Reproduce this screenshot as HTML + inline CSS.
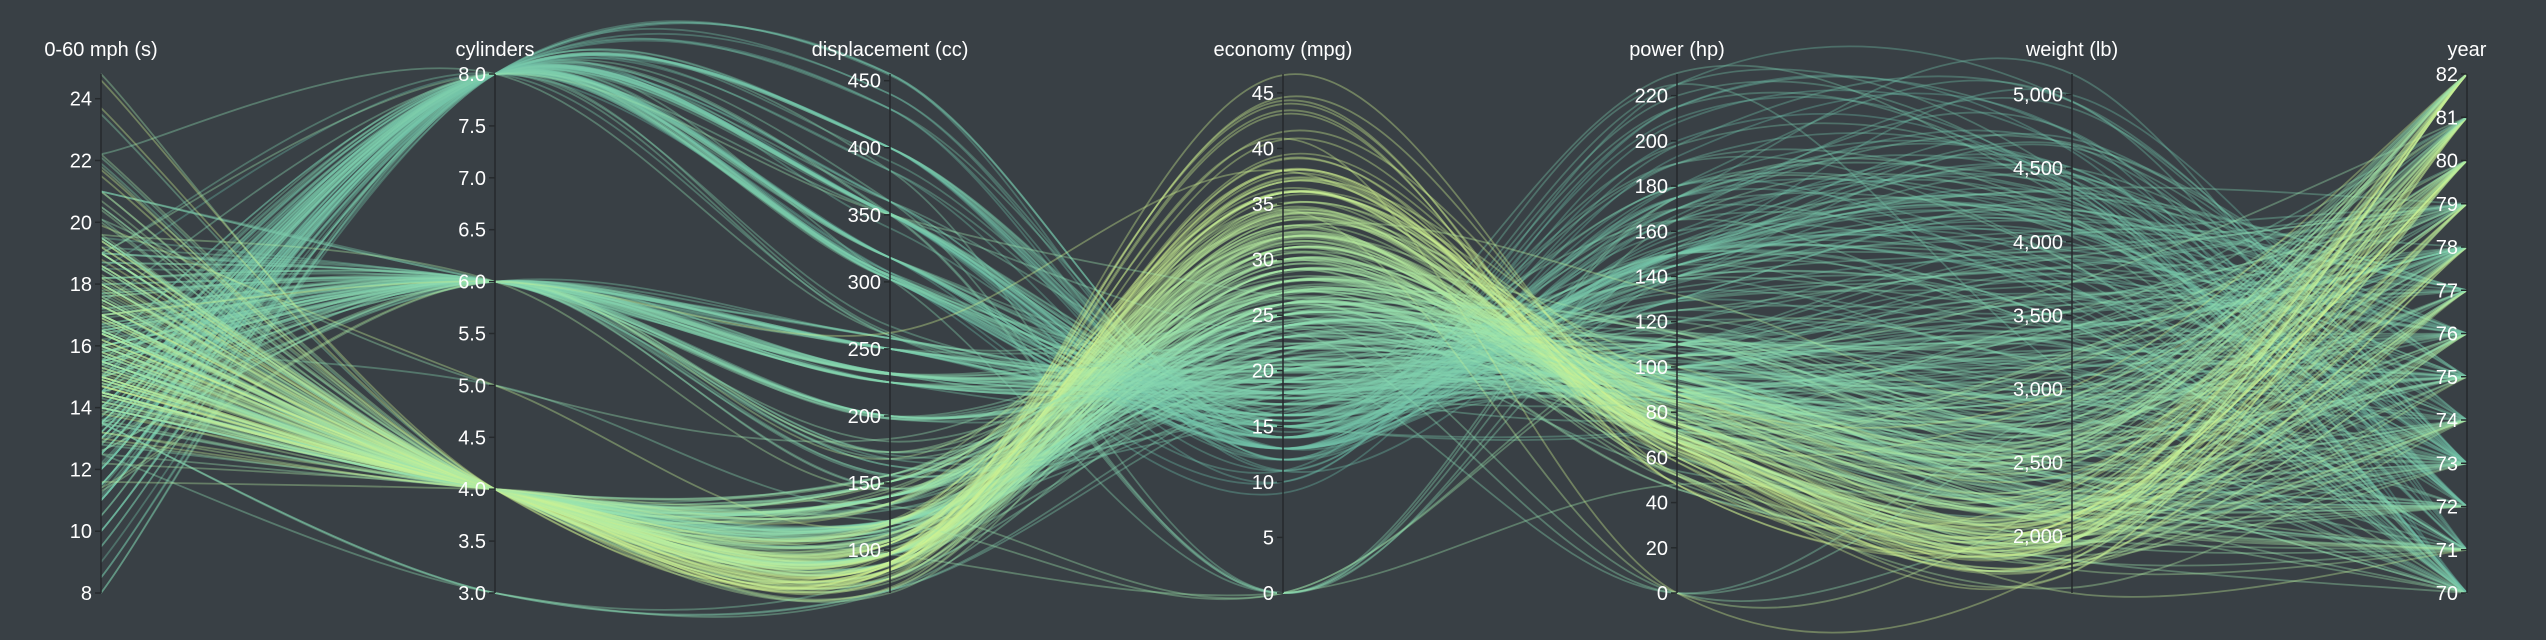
<!DOCTYPE html>
<html><head><meta charset="utf-8"><style>
html,body{margin:0;padding:0;background:#394045;}
svg{display:block;}
text{font-family:"Liberation Sans",sans-serif;fill:#fff;}
</style></head><body>
<svg id="chart" width="2546" height="640" viewBox="0 0 2546 640" xmlns="http://www.w3.org/2000/svg">
<rect width="2546" height="640" fill="#394045"/>
<g id="lines"></g>
<g id="axes"></g>
</svg>
<script>
// dimension order: acceleration, cylinders, displacement, economy, power, weight, year
const dimNames = ["0-60 mph (s)","cylinders","displacement (cc)","economy (mpg)","power (hp)","weight (lb)","year"];
const dimKeys = ["acceleration","cylinders","displacement","economy","power","weight","year"];
const dimMin = [8, 3, 68, 0, 0, 1613, 70];
const dimMax = [24.8, 8, 455, 46.7, 229.6, 5140, 82];
const accTicks = [8,10,12,14,16,18,20,22,24];
const cylTicks = [3,3.5,4,4.5,5,5.5,6,6.5,7,7.5,8];
const dispTicks = [100,150,200,250,300,350,400,450];
const mpgTicks = [0,5,10,15,20,25,30,35,40,45];
const hpTicks = [0,20,40,60,80,100,120,140,160,180,200,220];
const wtTicks = [2000,2500,3000,3500,4000,4500,5000];
const yearTicks = [70,71,72,73,74,75,76,77,78,79,80,81,82];
// each car: mpg, cylinders, displacement, hp, weight, acceleration, year
const cars = [
[18,8,307,130,3504,12,70],[15,8,350,165,3693,11.5,70],[18,8,318,150,3436,11,70],[16,8,304,150,3433,12,70],[17,8,302,140,3449,10.5,70],[15,8,429,198,4341,10,70],[14,8,454,220,4354,9,70],[14,8,440,215,4312,8.5,70],[14,8,455,225,4425,10,70],[15,8,390,190,3850,8.5,70],
[0,4,133,115,3090,17.5,70],[0,8,350,165,4142,11.5,70],[0,8,351,153,4034,11,70],[0,8,383,175,4166,10.5,70],[0,8,360,175,3850,11,70],[15,8,383,170,3563,10,70],[14,8,340,160,3609,8,70],[0,8,302,140,3353,8,70],[15,8,400,150,3761,9.5,70],[14,8,455,225,3086,10,70],
[24,4,113,95,2372,15,70],[22,6,198,95,2833,15.5,70],[18,6,199,97,2774,15.5,70],[21,6,200,85,2587,16,70],[27,4,97,88,2130,14.5,70],[26,4,97,46,1835,20.5,70],[25,4,110,87,2672,17.5,70],[24,4,107,90,2430,14.5,70],[25,4,104,95,2375,17.5,70],[26,4,121,113,2234,12.5,70],
[21,6,199,90,2648,15,70],[10,8,360,215,4615,14,70],[10,8,307,200,4376,15,70],[11,8,318,210,4382,13.5,70],[9,8,304,193,4732,18.5,70],[27,4,97,88,2130,14.5,71],[28,4,140,90,2264,15.5,71],[25,4,113,95,2228,14,71],[25,4,98,0,2046,19,71],[0,4,97,48,1978,20,71],
[19,6,232,100,2634,13,71],[16,6,225,105,3439,15.5,71],[17,6,250,100,3329,15.5,71],[19,6,250,88,3302,15.5,71],[18,6,232,100,3288,15.5,71],[14,8,350,165,4209,12,71],[14,8,400,175,4464,11.5,71],[14,8,351,153,4154,13.5,71],[14,8,318,150,4096,13,71],[12,8,383,180,4955,11.5,71],
[13,8,400,170,4746,12,71],[13,8,400,175,5140,12,71],[18,6,258,110,2962,13.5,71],[22,4,140,72,2408,19,71],[19,6,250,100,3282,15,71],[18,6,250,88,3139,14.5,71],[23,4,122,86,2220,14,71],[28,4,116,90,2123,14,71],[30,4,79,70,2074,19.5,71],[30,4,88,76,2065,14.5,71],
[31,4,71,65,1773,19,71],[35,4,72,69,1613,18,71],[27,4,97,60,1834,19,71],[26,4,91,70,1955,20.5,71],[24,4,113,95,2278,15.5,72],[25,4,97.5,80,2126,17,72],[23,4,97,54,2254,23.5,72],[20,4,140,90,2408,19.5,72],[21,4,122,86,2226,16.5,72],[13,8,350,165,4274,12,72],
[14,8,400,175,4385,12,72],[15,8,318,150,4135,13.5,72],[14,8,351,153,4129,13,72],[17,8,304,150,3672,11.5,72],[11,8,429,208,4633,11,72],[13,8,350,155,4502,13.5,72],[12,8,350,160,4456,13.5,72],[13,8,400,190,4422,12.5,72],[19,3,70,97,2330,13.5,72],[15,8,304,150,3892,12.5,72],
[13,8,307,130,4098,14,72],[13,8,302,140,4294,16,72],[14,8,318,150,4077,14,72],[18,4,121,112,2933,14.5,72],[22,4,121,76,2511,18,72],[21,4,120,87,2979,19.5,72],[26,4,96,69,2189,18,72],[22,4,122,86,2395,16,72],[28,4,97,92,2288,17,72],[23,4,120,97,2506,14.5,72],
[28,4,98,80,2164,15,72],[27,4,97,88,2100,16.5,72],[13,8,350,175,4100,13,73],[14,8,304,150,3672,11.5,73],[13,8,350,145,3988,13,73],[14,8,302,137,4042,14.5,73],[15,8,318,150,3777,12.5,73],[12,8,429,198,4952,11.5,73],[13,8,400,150,4464,12,73],[13,8,351,158,4363,13,73],
[14,8,318,150,4237,14.5,73],[13,8,440,215,4735,11,73],[12,8,455,225,4951,11,73],[13,8,360,175,3821,11,73],[18,6,225,105,3121,16.5,73],[16,6,250,100,3278,18,73],[18,6,232,100,2945,16,73],[18,6,250,88,3021,16.5,73],[23,6,198,95,2904,16,73],[26,4,97,46,1950,21,73],
[11,8,400,150,4997,14,73],[12,8,400,167,4906,12.5,73],[13,8,360,170,4654,13,73],[12,8,350,180,4499,12.5,73],[18,6,232,100,2789,15,73],[20,4,97,88,2279,19,73],[21,4,140,72,2401,19.5,73],[22,4,108,94,2379,16.5,73],[18,3,70,90,2124,13.5,73],[19,4,122,85,2310,18.5,73],
[21,6,155,107,2472,14,73],[26,4,98,90,2265,15.5,73],[15,8,350,145,4082,13,73],[16,8,400,230,4278,9.5,73],[29,4,68,49,1867,19.5,73],[24,4,116,75,2158,15.5,73],[20,4,114,91,2582,14,73],[19,4,121,112,2868,15.5,73],[15,8,318,150,3399,11,73],[24,4,121,110,2660,14,73],
[20,6,156,122,2807,13.5,73],[11,8,350,180,3664,11,73],[20,6,198,95,3102,16.5,74],[21,6,200,0,2875,17,74],[19,6,232,100,2901,16,74],[15,6,250,100,3336,17,74],[31,4,79,67,1950,19,74],[26,4,122,80,2451,16.5,74],[32,4,71,65,1836,21,74],[25,4,140,75,2542,17,74],
[16,6,250,100,3781,17,74],[16,6,258,110,3632,18,74],[18,6,225,105,3613,16.5,74],[16,8,302,140,4141,14,74],[13,8,350,150,4699,14.5,74],[14,8,318,150,4457,13.5,74],[14,8,302,140,4638,16,74],[14,8,304,150,4257,15.5,74],[29,4,98,83,2219,16.5,74],[26,4,79,67,1963,15.5,74],
[26,4,97,78,2300,14.5,74],[31,4,76,52,1649,16.5,74],[32,4,83,61,2003,19,74],[28,4,90,75,2125,14.5,74],[24,4,90,75,2108,15.5,74],[26,4,116,75,2246,14,74],[24,4,120,97,2489,15,74],[26,4,108,93,2391,15.5,74],[31,4,79,67,2000,16,74],[19,6,225,95,3264,16,75],
[18,6,250,105,3459,16,75],[15,6,250,72,3432,21,75],[15,6,250,72,3158,19.5,75],[16,8,400,170,4668,11.5,75],[15,8,350,145,4440,14,75],[16,8,318,150,4498,14.5,75],[14,8,351,148,4657,13.5,75],[17,6,231,110,3907,21,75],[16,6,250,105,3897,18.5,75],[15,6,258,110,3730,19,75],
[18,6,225,95,3785,19,75],[21,6,231,110,3039,15,75],[20,8,262,110,3221,13.5,75],[13,8,302,129,3169,12,75],[29,4,97,75,2171,16,75],[23,4,140,83,2639,17,75],[20,6,232,100,2914,16,75],[23,4,140,78,2592,18.5,75],[24,4,134,96,2702,13.5,75],[25,4,90,71,2223,16.5,75],
[24,4,119,97,2545,17,75],[18,6,171,97,2984,14.5,75],[29,4,90,70,1937,14,75],[19,6,232,90,3211,17,75],[23,4,115,95,2694,15,75],[23,4,120,88,2957,17,75],[22,4,121,98,2945,14.5,75],[25,4,121,115,2671,13.5,75],[33,4,91,53,1795,17.5,75],[28,4,107,86,2464,15.5,76],
[25,4,116,81,2220,16.9,76],[25,4,140,92,2572,14.9,76],[26,4,98,79,2255,17.7,76],[27,4,101,83,2202,15.3,76],[17.5,8,305,140,4215,13,76],[16,8,318,150,4190,13,76],[15.5,8,304,120,3962,13.9,76],[14.5,8,351,152,4215,12.8,76],[22,6,225,100,3233,15.4,76],[22,6,250,105,3353,14.5,76],
[24,6,200,81,3012,17.6,76],[22.5,6,232,90,3085,17.6,76],[29,4,85,52,2035,22.2,76],[24.5,4,98,60,2164,22.1,76],[29,4,90,70,1937,14.2,76],[33,4,91,53,1795,17.4,76],[20,6,225,100,3651,17.7,76],[18,6,250,78,3574,21,76],[18.5,6,250,110,3645,16.2,76],[17.5,6,258,95,3193,17.8,76],
[29.5,4,97,71,1825,12.2,76],[32,4,85,70,1990,17,76],[28,4,97,75,2155,16.4,76],[26.5,4,140,72,2565,13.6,76],[20,4,130,102,3150,15.7,76],[13,8,318,150,3940,13.2,76],[19,4,120,88,3270,21.9,76],[19,6,156,108,2930,15.5,76],[16.5,6,168,120,3820,16.7,76],[16.5,8,350,180,4380,12.1,76],
[13,8,350,145,4055,12,76],[13,8,302,130,3870,15,76],[13,8,318,150,3755,14,76],[31.5,4,98,68,2045,18.5,77],[30,4,111,80,2155,14.8,77],[36,4,79,58,1825,18.6,77],[25.5,4,122,96,2300,15.5,77],[33.5,4,85,70,1945,16.8,77],[17.5,8,305,145,3880,12.5,77],[17,8,260,110,4060,19,77],
[15.5,8,318,145,4140,13.7,77],[15,8,302,130,4295,14.9,77],[17.5,6,250,110,3520,16.4,77],[20.5,6,231,105,3425,16.9,77],[19,6,225,100,3630,17.7,77],[18.5,6,250,98,3525,19,77],[16,8,400,180,4220,11.1,77],[15.5,8,350,170,4165,11.4,77],[15.5,8,400,190,4325,12.2,77],[16,8,351,149,4335,14.5,77],
[29,4,97,78,1940,14.5,77],[24.5,4,151,88,2740,16,77],[26,4,97,75,2265,18.2,77],[25.5,4,140,89,2755,15.8,77],[30.5,4,98,63,2051,17,77],[33.5,4,98,83,2075,15.9,77],[30,4,97,67,1985,16.4,77],[30.5,4,97,78,2190,14.1,77],[22,6,146,97,2815,14.5,77],[21.5,4,121,110,2600,12.8,77],
[21.5,3,80,110,2720,13.5,77],[43.1,4,90,48,1985,21.5,78],[36.1,4,98,66,1800,14.4,78],[32.8,4,78,52,1985,19.4,78],[39.4,4,85,70,2070,18.6,78],[36.1,4,91,60,1800,16.4,78],[19.9,8,260,110,3365,15.5,78],[19.4,8,318,140,3735,13.2,78],[20.2,8,302,139,3570,12.8,78],[19.2,6,231,105,3535,19.2,78],
[20.5,6,200,95,3155,18.2,78],[20.2,6,200,85,2965,15.8,78],[25.1,4,140,88,2720,15.4,78],[20.5,6,225,100,3430,17.2,78],[19.4,6,232,90,3210,17.2,78],[20.6,6,231,105,3380,15.8,78],[20.8,6,200,85,3070,16.7,78],[18.6,6,225,110,3620,18.7,78],[18.1,6,258,120,3410,15.1,78],[19.2,8,305,145,3425,13.2,78],
[17.7,6,231,165,3445,13.4,78],[18.1,8,302,139,3205,11.2,78],[17.5,8,318,140,4080,13.7,78],[30,4,98,68,2155,16.5,78],[27.5,4,134,95,2560,14.2,78],[27.2,4,119,97,2300,14.7,78],[30.9,4,105,75,2230,14.5,78],[21.1,4,134,95,2515,14.8,78],[23.2,4,156,105,2745,16.7,78],[23.8,4,151,85,2855,17.6,78],
[23.9,4,119,97,2405,14.9,78],[20.3,5,131,103,2830,15.9,78],[17,6,163,125,3140,13.6,78],[21.6,4,121,115,2795,15.7,78],[16.2,6,163,133,3410,15.8,78],[31.5,4,89,71,1990,14.9,78],[29.5,4,98,68,2135,16.6,78],[21.5,6,231,115,3245,15.4,79],[19.8,6,200,85,2990,18.2,79],[22.3,4,140,88,2890,17.3,79],
[20.2,6,232,90,3265,18.2,79],[20.6,6,225,110,3360,16.6,79],[17,8,305,130,3840,15.4,79],[17.6,8,302,129,3725,13.4,79],[16.5,8,351,138,3955,13.2,79],[18.2,8,318,135,3830,15.2,79],[16.9,8,350,155,4360,14.9,79],[15.5,8,351,142,4054,14.3,79],[19.2,8,267,125,3605,15,79],[18.5,8,360,150,3940,13,79],
[31.9,4,89,71,1925,14,79],[34.1,4,86,65,1975,15.2,79],[35.7,4,98,80,1915,14.4,79],[27.4,4,121,80,2670,15,79],[25.4,5,183,77,3530,20.1,79],[23,8,350,125,3900,17.4,79],[27.2,4,141,71,3190,24.8,79],[23.9,8,260,90,3420,22.2,79],[34.2,4,105,70,2200,13.2,79],[34.5,4,105,70,2150,14.9,79],
[31.8,4,85,65,2020,19.2,79],[37.3,4,91,69,2130,14.7,79],[28.4,4,151,90,2670,16,79],[28.8,6,173,115,2595,11.3,79],[26.8,6,173,115,2700,12.9,79],[33.5,4,151,90,2556,13.2,79],[41.5,4,98,76,2144,14.7,80],[38.1,4,89,60,1968,18.8,80],[32.1,4,98,70,2120,15.5,80],[37.2,4,86,65,2019,16.4,80],
[28,4,151,90,2678,16.5,80],[26.4,4,140,88,2870,18.1,80],[24.3,4,151,90,3003,20.1,80],[19.1,6,225,90,3381,18.7,80],[34.3,4,97,78,2188,15.8,80],[29.8,4,134,90,2711,15.5,80],[31.3,4,120,75,2542,17.5,80],[37,4,119,92,2434,15,80],[32.2,4,108,75,2265,15.2,80],[46.6,4,86,65,2110,17.9,80],
[27.9,4,156,105,2800,14.4,80],[40.8,4,85,65,2110,19.2,80],[44.3,4,90,48,2085,21.7,80],[43.4,4,90,48,2335,23.7,80],[36.4,5,121,67,2950,19.9,80],[30,4,146,67,3250,21.8,80],[44.6,4,91,67,1850,13.8,80],[40.9,4,85,0,1835,17.3,80],[33.8,4,97,67,2145,18,80],[29.8,4,89,62,1845,15.3,80],
[32.7,6,168,132,2910,11.4,80],[23.7,3,70,100,2420,12.5,80],[35,4,122,88,2500,15.1,80],[23.6,4,140,0,2905,14.3,80],[32.4,4,107,72,2290,17,80],[27.2,4,135,84,2490,15.7,81],[26.6,4,151,84,2635,16.4,81],[25.8,4,156,92,2620,14.4,81],[23.5,6,173,110,2725,12.6,81],[30,4,135,84,2385,12.9,81],
[39.1,4,79,58,1755,16.9,81],[39,4,86,64,1875,16.4,81],[35.1,4,81,60,1760,16.1,81],[32.3,4,97,67,2065,17.8,81],[37,4,85,65,1975,19.4,81],[37.7,4,89,62,2050,17.3,81],[34.1,4,91,68,1985,16,81],[34.7,4,105,63,2215,14.9,81],[34.4,4,98,65,2045,16.2,81],[29.9,4,98,65,2380,20.7,81],
[33,4,105,74,2190,14.2,81],[0,4,121,110,2800,15.4,81],[34.5,4,100,0,2320,15.8,81],[33.7,4,107,75,2210,14.4,81],[32.4,4,108,75,2350,16.8,81],[32.9,4,119,100,2615,14.8,81],[31.6,4,120,74,2635,18.3,81],[28.1,4,141,80,3230,20.4,81],[30.7,6,145,76,3160,19.6,81],[25.4,6,168,116,2900,12.6,81],
[24.2,6,146,120,2930,13.8,81],[22.4,6,231,110,3415,15.8,81],[26.6,8,350,105,3725,19,81],[20.2,6,200,88,3060,17.1,81],[17.6,6,225,85,3465,16.6,81],[28,4,112,88,2605,19.6,82],[27,4,112,88,2640,18.6,82],[34,4,112,88,2395,18,82],[31,4,112,85,2575,16.2,82],[29,4,135,84,2525,16,82],
[27,4,151,90,2735,18,82],[24,4,140,92,2865,16.4,82],[36,4,105,74,1980,15.3,82],[37,4,91,68,2025,18.2,82],[31,4,91,68,1970,17.6,82],[38,4,105,63,2125,14.7,82],[36,4,98,70,2125,17.3,82],[36,4,120,88,2160,14.5,82],[36,4,107,75,2205,14.5,82],[34,4,108,70,2245,16.9,82],
[38,4,91,67,1965,15,82],[32,4,91,67,1965,15.7,82],[38,4,91,67,1995,16.2,82],[25,6,181,110,2945,16.4,82],[38,6,262,85,3015,17,82],[26,4,156,92,2585,14.5,82],[22,6,232,112,2835,14.7,82],[32,4,144,96,2665,13.9,82],[36,4,135,84,2370,13,82],[27,4,151,90,2950,17.3,82],
[27,4,140,86,2790,15.6,82],[44,4,97,52,2130,24.6,82],[32,4,135,84,2295,11.6,82],[28,4,120,79,2625,18.6,82],[31,4,119,82,2720,19.4,82]
];

const NS = "http://www.w3.org/2000/svg";
const axisX = [101, 495, 890, 1283, 1677, 2072, 2467];
const yTop = 74, yBot = 593;
const tickSets = [accTicks, cylTicks, dispTicks, mpgTicks, hpTicks, wtTicks, yearTicks];
function yScale(d, v) { return yBot - (v - dimMin[d]) / (dimMax[d] - dimMin[d]) * (yBot - yTop); }
function tickFmt(d, v) {
  if (d === 1) return v.toFixed(1);
  if (d === 5) return v.toLocaleString("en-US");
  return String(v);
}
function carValues(c) { return [c[5], c[1], c[2], c[0], c[3], c[4], c[6]]; }
function lerp(a, b, t) { return a + (b - a) * t; }
function colorFor(mpg, cyl) {
  const stops = [[105,185,165],[145,225,180],[210,245,145]];
  let t = Math.max(0, Math.min(1, (mpg - 10) / 28));
  if (mpg === 0) t = cyl >= 8 ? 0.4 : 0.6;
  const s = t < 0.5 ? 0 : 1, u = t < 0.5 ? t * 2 : (t - 0.5) * 2;
  const a = stops[s], b = stops[s + 1];
  return "rgb(" + Math.round(lerp(a[0], b[0], u)) + "," + Math.round(lerp(a[1], b[1], u)) + "," + Math.round(lerp(a[2], b[2], u)) + ")";
}
function pathFor(pts) {
  let d = "M" + pts[0][0] + "," + pts[0][1].toFixed(1);
  for (let i = 0; i < pts.length - 1; i++) {
    const p0 = pts[Math.max(0, i - 1)], p1 = pts[i], p2 = pts[i + 1], p3 = pts[Math.min(pts.length - 1, i + 2)];
    const c1x = p1[0] + (p2[0] - p0[0]) / 6, c1y = p1[1] + (p2[1] - p0[1]) / 6;
    const c2x = p2[0] - (p3[0] - p1[0]) / 6, c2y = p2[1] - (p3[1] - p1[1]) / 6;
    d += "C" + c1x.toFixed(1) + "," + c1y.toFixed(1) + " " + c2x.toFixed(1) + "," + c2y.toFixed(1) + " " + p2[0] + "," + p2[1].toFixed(1);
  }
  return d;
}
const gLines = document.getElementById("lines");
cars.forEach(function (c) {
  const vals = carValues(c);
  const pts = vals.map(function (v, d) { return [axisX[d], yScale(d, v)]; });
  const p = document.createElementNS(NS, "path");
  p.setAttribute("d", pathFor(pts));
  p.setAttribute("fill", "none");
  p.setAttribute("stroke", colorFor(c[0], c[1]));
  p.setAttribute("stroke-width", "1.8");
  p.setAttribute("stroke-opacity", "0.36");
  
  
  gLines.appendChild(p);
});
const gAxes = document.getElementById("axes");
for (let d = 0; d < 7; d++) {
  const g = document.createElementNS(NS, "g");
  
  
  const ln = document.createElementNS(NS, "line");
  ln.setAttribute("x1", axisX[d]); ln.setAttribute("x2", axisX[d]);
  ln.setAttribute("y1", yTop); ln.setAttribute("y2", yBot);
  ln.setAttribute("stroke", "#25292c"); ln.setAttribute("stroke-width", "1.5");
  
  
  g.appendChild(ln);
  tickSets[d].forEach(function (v) {
    const y = yScale(d, v);
    const tk = document.createElementNS(NS, "line");
    tk.setAttribute("x1", axisX[d] - 6); tk.setAttribute("x2", axisX[d]);
    tk.setAttribute("y1", y); tk.setAttribute("y2", y);
    tk.setAttribute("stroke", "#25292c"); tk.setAttribute("stroke-width", "1.5");
    
    
    g.appendChild(tk);
    const t = document.createElementNS(NS, "text");
    t.setAttribute("x", axisX[d] - 9);
    t.setAttribute("y", y + 7);
    t.setAttribute("text-anchor", "end");
    t.setAttribute("font-size", "20");
    t.textContent = tickFmt(d, v);
    
    
    g.appendChild(t);
  });
  const title = document.createElementNS(NS, "text");
  title.setAttribute("x", axisX[d]);
  title.setAttribute("y", 56);
  title.setAttribute("text-anchor", "middle");
  title.setAttribute("font-size", "20");
  title.textContent = dimNames[d];
  
  
  g.appendChild(title);
  gAxes.appendChild(g);
}
</script>
</body></html>
